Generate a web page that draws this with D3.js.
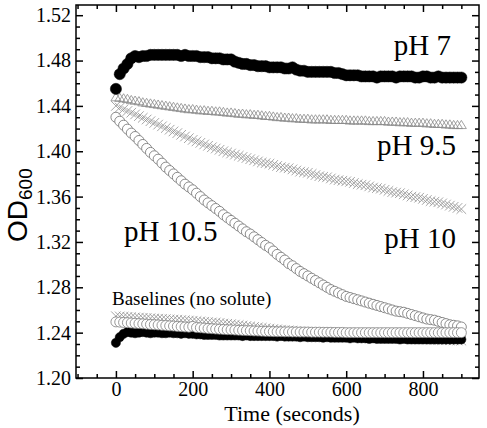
<!DOCTYPE html>
<html><head><meta charset="utf-8">
<script src="https://cdn.jsdelivr.net/npm/d3@7"></script>
<style>
body{margin:0;background:#fff;}
svg{display:block;}
text{font-family:"Liberation Serif","Times New Roman",serif;fill:#000;}
</style></head>
<body>
<script>
const times = [0,10,20,30,40,50,60,70,80,90,100,110,120,130,140,150,160,170,180,190,200,210,220,230,240,250,260,270,280,290,300,310,320,330,340,350,360,370,380,390,400,410,420,430,440,450,460,470,480,490,500,510,520,530,540,550,560,570,580,590,600,610,620,630,640,650,660,670,680,690,700,710,720,730,740,750,760,770,780,790,800,810,820,830,840,850,860,870,880,890,900];

const pH7 = [1.455,1.468,1.473,1.477,1.482,1.484,1.483,1.484,1.484,1.485,1.485,1.485,1.485,1.485,1.485,1.485,1.485,1.484,1.485,1.484,1.484,1.484,1.483,1.483,1.483,1.482,1.482,1.482,1.481,1.481,1.481,1.479,1.478,1.477,1.477,1.476,1.476,1.475,1.475,1.475,1.474,1.474,1.474,1.474,1.473,1.473,1.474,1.472,1.471,1.471,1.470,1.470,1.470,1.470,1.470,1.470,1.470,1.469,1.469,1.468,1.467,1.467,1.467,1.467,1.466,1.466,1.466,1.466,1.465,1.466,1.466,1.466,1.466,1.465,1.466,1.466,1.466,1.466,1.465,1.465,1.466,1.466,1.465,1.465,1.466,1.465,1.465,1.465,1.465,1.465,1.465];

const pH95 = [1.4475,1.447,1.4465,1.446,1.445,1.4445,1.444,1.443,1.4425,1.442,1.4415,1.441,1.4405,1.440,1.4395,1.439,1.4385,1.438,1.4375,1.437,1.437,1.4365,1.436,1.436,1.4355,1.4355,1.435,1.435,1.4345,1.434,1.434,1.4335,1.433,1.433,1.4325,1.4325,1.432,1.432,1.4315,1.431,1.431,1.4305,1.430,1.430,1.4295,1.4295,1.429,1.429,1.4285,1.4285,1.4285,1.428,1.428,1.428,1.428,1.428,1.4275,1.4275,1.4275,1.4275,1.4275,1.427,1.427,1.427,1.427,1.427,1.4265,1.4265,1.4265,1.4265,1.4265,1.426,1.426,1.426,1.4255,1.4255,1.4255,1.425,1.425,1.425,1.425,1.4245,1.4245,1.424,1.424,1.424,1.4235,1.4235,1.423,1.423,1.423];

const pH10 = [1.440,1.4385,1.437,1.4355,1.434,1.4325,1.431,1.4295,1.428,1.4265,1.425,1.4235,1.422,1.4205,1.419,1.4175,1.416,1.4145,1.413,1.4115,1.410,1.4087,1.4074,1.406,1.4048,1.4035,1.4024,1.4013,1.400,1.399,1.398,1.397,1.396,1.395,1.394,1.393,1.392,1.391,1.390,1.3895,1.389,1.388,1.387,1.386,1.3855,1.385,1.384,1.383,1.382,1.3815,1.381,1.380,1.379,1.378,1.3775,1.377,1.376,1.375,1.3745,1.374,1.3735,1.373,1.372,1.371,1.3705,1.370,1.369,1.368,1.3675,1.367,1.366,1.365,1.364,1.3635,1.363,1.362,1.361,1.360,1.3595,1.359,1.358,1.357,1.356,1.3555,1.355,1.354,1.353,1.352,1.351,1.350,1.349];

const pH105 = [1.430,1.4265,1.423,1.4195,1.416,1.413,1.4095,1.406,1.4025,1.399,1.396,1.393,1.3895,1.386,1.383,1.380,1.377,1.374,1.371,1.3685,1.366,1.363,1.360,1.357,1.3545,1.352,1.3495,1.347,1.344,1.3415,1.339,1.3365,1.334,1.3315,1.329,1.327,1.3245,1.322,1.3195,1.317,1.315,1.312,1.309,1.3065,1.304,1.301,1.299,1.2965,1.294,1.292,1.290,1.288,1.286,1.284,1.282,1.280,1.278,1.2765,1.275,1.2735,1.272,1.271,1.270,1.269,1.268,1.267,1.266,1.265,1.264,1.263,1.262,1.261,1.260,1.259,1.2585,1.258,1.257,1.256,1.255,1.254,1.253,1.252,1.2515,1.251,1.250,1.249,1.248,1.247,1.2465,1.246,1.245];

const baseBlack = [1.231,1.236,1.239,1.2405,1.240,1.2395,1.240,1.2405,1.240,1.2395,1.240,1.240,1.2395,1.2395,1.240,1.2395,1.2395,1.239,1.2395,1.239,1.239,1.2385,1.2385,1.238,1.238,1.238,1.238,1.2375,1.2375,1.2375,1.2375,1.2375,1.2375,1.237,1.2375,1.237,1.237,1.237,1.237,1.237,1.237,1.237,1.2365,1.237,1.2365,1.2365,1.2365,1.2365,1.236,1.2365,1.236,1.236,1.236,1.236,1.2355,1.236,1.2355,1.2355,1.2355,1.2355,1.2355,1.235,1.2355,1.235,1.235,1.235,1.2345,1.235,1.2345,1.2345,1.2345,1.2345,1.2345,1.2345,1.234,1.2345,1.234,1.234,1.234,1.234,1.234,1.234,1.234,1.234,1.234,1.234,1.234,1.234,1.234,1.234,1.234];

const baseCircle = [1.2495,1.2493,1.249,1.2488,1.2485,1.2483,1.248,1.2478,1.2475,1.2472,1.247,1.2468,1.2465,1.2463,1.246,1.2458,1.2455,1.2453,1.245,1.2448,1.2455,1.2445,1.2443,1.244,1.2437,1.2435,1.2432,1.243,1.2428,1.2426,1.2425,1.2423,1.2421,1.242,1.2418,1.2417,1.2415,1.2414,1.2412,1.2411,1.241,1.2409,1.2408,1.2408,1.2407,1.2407,1.2406,1.2406,1.2405,1.2405,1.2405,1.2404,1.2404,1.2404,1.2403,1.2403,1.2403,1.2402,1.2402,1.2402,1.240,1.240,1.240,1.240,1.240,1.240,1.240,1.240,1.240,1.240,1.240,1.240,1.240,1.240,1.240,1.240,1.240,1.240,1.240,1.240,1.240,1.240,1.240,1.240,1.240,1.240,1.240,1.240,1.240,1.240,1.240];

const baseCross = [1.2545,1.2543,1.2541,1.2539,1.2537,1.2535,1.2533,1.2531,1.2529,1.2527,1.2525,1.2523,1.2521,1.2519,1.2517,1.2515,1.2513,1.2511,1.2509,1.2507,1.2505,1.2502,1.2499,1.2496,1.2493,1.249,1.249,1.2485,1.248,1.2478,1.2475,1.2471,1.2467,1.2463,1.2459,1.2455,1.2451,1.2447,1.2443,1.2439,1.2435,1.2432,1.2429,1.2426,1.2423,1.242,1.2417,1.2414,1.2411,1.2408,1.2405,1.2402,1.24,1.2397,1.2395,1.2392,1.239,1.2387,1.2385,1.2382,1.238,1.2378,1.2376,1.2374,1.2372,1.237,1.2368,1.2366,1.2364,1.2362,1.236,1.2358,1.2356,1.2354,1.2352,1.235,1.2348,1.2346,1.2344,1.2342,1.234,1.2339,1.2338,1.2337,1.2336,1.2335,1.2334,1.2333,1.2332,1.2331,1.233];

const xMajor = [0,200,400,600,800];
const xMinor = [-100,-50,50,100,150,250,300,350,450,500,550,650,700,750,850,900];
const yMajor = [1.20,1.24,1.28,1.32,1.36,1.40,1.44,1.48,1.52];
const yMinor = [1.21,1.22,1.23,1.25,1.26,1.27,1.29,1.30,1.31,1.33,1.34,1.35,1.37,1.38,1.39,1.41,1.42,1.43,1.45,1.46,1.47,1.49,1.50,1.51];

const W = 487, H = 428;
const L = 76, R = 479, T = 5, B = 378;

const svg = d3.select("body").append("svg").attr("width", W).attr("height", H);
const x = d3.scaleLinear().domain([-104, 946]).range([L, R]);
const y = d3.scaleLinear().domain([1.20, 1.529]).range([B, T]);

const plot = svg.append("g");
const pts = arr => arr.map((v, i) => ({t: times[i], v}));

const triPath = "M0,-4.8L5,3.4L-5,3.4Z";
const crossPath = "M-4.8,-4.8L4.8,4.8M4.8,-4.8L-4.8,4.8";

function circles(arr, r, fill, stroke, sw) {
  plot.append("g").selectAll("circle").data(pts(arr)).join("circle")
    .attr("cx", d => x(d.t)).attr("cy", d => y(d.v)).attr("r", r)
    .attr("fill", fill).attr("stroke", stroke).attr("stroke-width", sw);
}
function paths(arr, p, fill, stroke, sw) {
  plot.append("g").selectAll("path").data(pts(arr)).join("path")
    .attr("d", p).attr("transform", d => `translate(${x(d.t)},${y(d.v)})`)
    .attr("fill", fill).attr("stroke", stroke).attr("stroke-width", sw);
}

// main series
circles(pH105, 5, "#fff", "#6e6e6e", 0.8);
paths(pH10, crossPath, "none", "#8e8e8e", 0.8);
paths(pH95, triPath, "none", "#8a8a8a", 0.8);
circles(pH7, 5.6, "#000", "#000", 0.5);
// baselines
paths(baseCross, crossPath, "none", "#8e8e8e", 0.8);
circles(baseBlack, 4.6, "#000", "#000", 0.5);
circles(baseCircle, 5, "#fff", "#7e7e7e", 0.8);

// axes
function styleAxis(g) {
  g.select(".domain").remove();
  g.selectAll("line").attr("stroke", "#000").attr("stroke-width", 1.5);
  g.selectAll("text").style("font-family", '"Liberation Serif", serif').style("font-size", "20px");
}
svg.append("g").attr("transform", `translate(0,${B})`)
  .call(d3.axisBottom(x).tickValues(xMajor).tickSize(-7).tickPadding(4).tickFormat(d3.format("d"))).call(styleAxis);
svg.append("g").attr("transform", `translate(0,${B})`)
  .call(d3.axisBottom(x).tickValues(xMinor).tickSize(-4).tickFormat("")).call(styleAxis);
svg.append("g").attr("transform", `translate(0,${T})`)
  .call(d3.axisTop(x).tickValues(xMajor).tickSize(-7).tickFormat("")).call(styleAxis);
svg.append("g").attr("transform", `translate(0,${T})`)
  .call(d3.axisTop(x).tickValues(xMinor).tickSize(-4).tickFormat("")).call(styleAxis);

svg.append("g").attr("transform", `translate(${L},0)`)
  .call(d3.axisLeft(y).tickValues(yMajor).tickSize(-7).tickPadding(5).tickFormat(d3.format(".2f"))).call(styleAxis);
svg.append("g").attr("transform", `translate(${L},0)`)
  .call(d3.axisLeft(y).tickValues(yMinor).tickSize(-4).tickFormat("")).call(styleAxis);
svg.append("g").attr("transform", `translate(${R},0)`)
  .call(d3.axisRight(y).tickValues(yMajor).tickSize(-7).tickFormat("")).call(styleAxis);
svg.append("g").attr("transform", `translate(${R},0)`)
  .call(d3.axisRight(y).tickValues(yMinor).tickSize(-4).tickFormat("")).call(styleAxis);

svg.append("rect").attr("x", L).attr("y", T).attr("width", R - L).attr("height", B - T)
  .attr("fill", "none").attr("stroke", "#000").attr("stroke-width", 1.5);

// axis titles
svg.append("text").attr("x", 292).attr("y", 421).attr("text-anchor", "middle")
  .style("font-size", "22px").text("Time (seconds)");
const yl = svg.append("text").attr("transform", "translate(27,242) rotate(-90)")
  .attr("text-anchor", "start").style("font-family", '"Liberation Sans", Arial, sans-serif').style("font-size", "28px");
yl.append("tspan").text("OD");
yl.append("tspan").attr("dy", 5).style("font-size", "19px").text("600");

// series labels
const lab = (tx, ax, ay, anchor, size) => svg.append("text").attr("x", ax).attr("y", ay)
  .attr("text-anchor", anchor).style("font-size", size + "px").text(tx);
lab("pH 7", 451, 55, "end", 29);
lab("pH 9.5", 456, 155, "end", 29);
lab("pH 10", 456, 248, "end", 29);
lab("pH 10.5", 124, 241, "start", 29);
lab("Baselines (no solute)", 112, 305, "start", 19);
</script>
</body></html>
